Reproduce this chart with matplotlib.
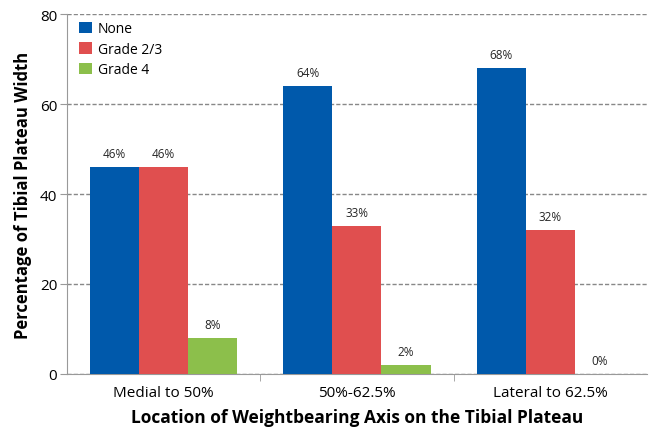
import matplotlib
matplotlib.use("Agg")
from matplotlib import pyplot as plt
import numpy as np

plt.rcParams['font.family'] = ['Open Sans', 'DejaVu Sans']

categories = ["Medial to 50%", "50%-62.5%", "Lateral to 62.5%"]
series_names = ["None", "Grade 2/3", "Grade 4"]
none_vals = [46, 64, 68]
grade23_vals = [46, 33, 32]
grade4_vals = [8, 2, 0]
colors = ["#0059AB", "#E04F4F", "#8CBF4B"]

fig = plt.figure(figsize=(6.54, 4.31), dpi=100)
ax = fig.add_axes([0.1024, 0.13, 0.8866, 0.835])

x = np.arange(len(categories))
w = 0.254
for i, (vals, name, c) in enumerate(zip([none_vals, grade23_vals, grade4_vals], series_names, colors)):
    xs = x + (i - 1) * w
    ax.bar(xs, vals, width=w, color=c, label=name, zorder=3)
    for xi, v in zip(xs, vals):
        ax.text(xi, v + 1.5, f"{v}%", ha='center', va='bottom', fontsize=8.5, color='#262626')

ax.set_xlim(-0.5, 2.5)
ax.set_ylim(0, 80)
ax.set_yticks([0, 20, 40, 60, 80])
ax.yaxis.grid(True, linestyle=(0, (3, 1.5)), color='#888888', linewidth=1, zorder=0)
ax.set_xticks(x)
ax.set_xticklabels(categories, fontsize=11)
ax.set_xticks([0.5, 1.5], minor=True)
ax.tick_params(axis='x', which='major', length=0, pad=8)
ax.tick_params(axis='x', which='minor', length=5, color='#999999')
ax.tick_params(axis='y', length=5, color='#999999', labelsize=11, pad=2)
for s in ['top', 'right']:
    ax.spines[s].set_visible(False)
for s in ['left', 'bottom']:
    ax.spines[s].set_color('#999999')

ax.set_xlabel("Location of Weightbearing Axis on the Tibial Plateau", fontsize=12.5, fontweight='bold', labelpad=6)
ax.set_ylabel("Percentage of Tibial Plateau Width", fontsize=12, fontweight='bold', labelpad=6)

ax.legend(loc='upper left', frameon=False, fontsize=10, handlelength=0.9, handleheight=0.9,
          handletextpad=0.4, labelspacing=0.4, bbox_to_anchor=(0.0, 1.015))

fig.savefig("out.png", dpi=100)
